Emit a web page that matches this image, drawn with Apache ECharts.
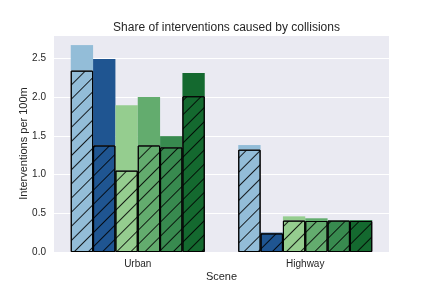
<!DOCTYPE html>
<html>
<head>
<meta charset="utf-8">
<script src="https://cdn.jsdelivr.net/npm/echarts@6/dist/echarts.min.js"></script>
<style>html,body{margin:0;padding:0;background:#fff}#c{width:432px;height:288px}</style>
</head>
<body>
<div id="c"></div>
<script>
var categories = ['Urban', 'Highway'];
var urbanTotal = [2.67, 2.49, 1.895, 2.0, 1.495, 2.31];
var urbanCollision = [2.34, 1.375, 1.05, 1.375, 1.35, 2.01];
var highwayTotal = [1.38, 0.25, 0.46, 0.435, 0.41, 0.41];
var highwayCollision = [1.32, 0.24, 0.405, 0.40, 0.405, 0.40];
var yTicks = [0, 0.5, 1.0, 1.5, 2.0, 2.5];
var colors = ['#93bdd8', '#1f5591', '#95cd8f', '#63ac6e', '#388a4f', '#14692f'];

var series = [];
for (var i = 0; i < 6; i++) {
  series.push({
    type: 'bar', stack: 's' + i, barGap: 0, barCategoryGap: '20%',
    data: [urbanCollision[i], highwayCollision[i]],
    itemStyle: {
      color: colors[i], borderColor: '#000', borderWidth: 1,
      decal: { symbol: 'rect', symbolSize: 1, dashArrayX: [1, 0], dashArrayY: [0.8, 9], rotation: -Math.PI / 4, color: 'rgba(0,0,0,0.85)' }
    },
    z: 3
  });
  series.push({
    type: 'bar', stack: 's' + i, barGap: 0, barCategoryGap: '20%',
    data: [urbanTotal[i] - urbanCollision[i], highwayTotal[i] - highwayCollision[i]],
    itemStyle: { color: colors[i] },
    z: 2
  });
}

var chart = echarts.init(document.getElementById('c'), null, { renderer: 'canvas' });
chart.setOption({
  animation: false,
  title: {
    text: 'Share of interventions caused by collisions',
    left: 221.5, textAlign: 'center', top: 17,
    textStyle: { fontFamily: 'Liberation Sans', fontSize: 12, fontWeight: 'normal', color: '#262626' }
  },
  grid: { left: 54, right: 43, top: 35, bottom: 36, show: true, backgroundColor: '#eaeaf2', borderWidth: 0, outerBoundsMode: 'none', containLabel: false },
  xAxis: {
    type: 'category', data: categories,
    name: 'Scene', nameLocation: 'middle', nameGap: 19, nameMoveOverlap: false,
    nameTextStyle: { fontFamily: 'Liberation Sans', fontSize: 11, color: '#262626' },
    axisLine: { show: false }, axisTick: { show: false },
    axisLabel: { fontFamily: 'Liberation Sans', fontSize: 10, color: '#262626', margin: 7 }
  },
  yAxis: {
    type: 'value', min: 0, max: 2.8, interval: 0.5,
    name: 'Interventions per 100m', nameLocation: 'middle', nameGap: 25, nameMoveOverlap: false,
    nameTextStyle: { fontFamily: 'Liberation Sans', fontSize: 11, color: '#262626' },
    axisLine: { show: false }, axisTick: { show: false },
    axisLabel: {
      fontFamily: 'Liberation Sans', fontSize: 10, color: '#262626', margin: 8,
      showMaxLabel: false,
      formatter: function (v) { return yTicks.indexOf(v) >= 0 ? v.toFixed(1) : ''; }
    },
    splitLine: { lineStyle: { color: '#ffffff', width: 1 } }
  },
  series: series
});
</script>
</body>
</html>
